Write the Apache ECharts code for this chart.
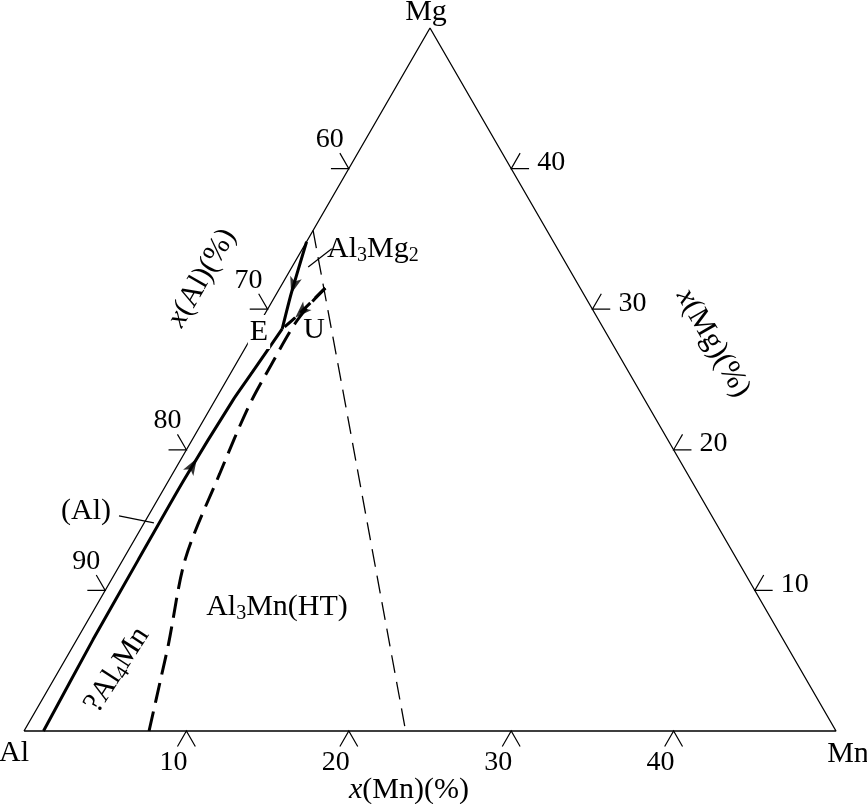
<!DOCTYPE html>
<html>
<head>
<meta charset="utf-8">
<title>Al-Mg-Mn</title>
<script src="https://cdn.jsdelivr.net/npm/echarts@6/dist/echarts.min.js"></script>
<style>
  html, body { margin: 0; padding: 0; background: #fff; }
  #main { width: 867px; height: 804px; }
</style>
</head>
<body>
<div id="main"></div>
<script>
// compositions in mole %, written as [x(Mn), x(Mg)], Al is the rest
const cornerNames = ['Al', 'Mn', 'Mg'];
const cornerComps = [[0, 0], [50, 0], [0, 50]];
const mnTicks = [10, 20, 30, 40];
const alTicks = [60, 70, 80, 90];
const mgTicks = [10, 20, 30, 40];

// (Al) / ?Al4Mn valley, from the Al-Mn side up to E
const alValley = [[1.2, 0], [1.0, 6.5], [0.95, 12.1], [0.92, 17.8], [1.1, 23.5], [1.3, 25.5], [1.6, 28.6]];
// (Al) / Al3Mg2 valley, from the Al-Mg side down to E
const mg2Valley = [[0, 34.8], [0.9, 31.1], [1.6, 28.6]];
// ?Al4Mn / Al3Mn(HT) boundary, from the Al-Mn side up to U
const al4mnEdge = [[7.7, 0], [6.6, 3.6], [5.8, 6.2], [3.8, 12.3], [2.9, 18.3], [2.3, 23.0], [2.2, 26.0], [2.2, 29.0], [2.5, 30.6], [2.8, 31.5]];
// U -> E
const uToE = [[2.8, 31.5], [2.0, 29.4], [1.6, 28.6]];
// edge of the Al3Mn(HT) field
const al3mnEdge = [[0, 35.6], [8.0, 23.5], [23.5, 0]];
// flow arrows: [from, at]
const flowArrows = [
  [[0.92, 17.8], [0.95, 19.4]],
  [[0, 34.8], [0.9, 31.1]],
  [[2.8, 31.5], [2.0, 29.4]]
];
// leader lines for labels
const alLeader = [[-1.8, 15.3], [0.6, 14.8]];
const mg2Leader = [[1.0, 33.0], [1.8, 34.3]];

const S3 = Math.sqrt(3) / 2;
const toXY = p => [p[0] + p[1] / 2, p[1] * S3];
const FONT = 'Liberation Serif';

// small tick marks along the three sides
const tickLen = 1.1;
const move = (p, dx, dy) => [p[0] + dx * tickLen, p[1] + dy * tickLen];
const tickPaths = [];
const tickLabels = [];
mnTicks.forEach(t => {
  const tip = toXY([t, 0]);
  tickPaths.push([move(tip, -0.5, -S3), tip, move(tip, 0.5, -S3)]);
  tickLabels.push({ name: String(t), value: tip, label: { offset: [-13, 32] } });
});
alTicks.forEach(t => {
  const tip = toXY([0, 100 - t]);
  tickPaths.push([move(tip, -1, 0), tip, move(tip, -0.5, S3)]);
  tickLabels.push({ name: String(t), value: tip, label: { offset: [-19, -29] } });
});
mgTicks.forEach(t => {
  const tip = toXY([50 - t, t]);
  tickPaths.push([move(tip, 1, 0), tip, move(tip, 0.5, S3)]);
  tickLabels.push({ name: String(t), value: tip, label: { offset: [40, -6] } });
});

const arrowData = flowArrows.map(([a, b]) => {
  const p = toXY(a), q = toXY(b);
  const ang = Math.atan2(q[1] - p[1], q[0] - p[0]) * 180 / Math.PI;
  return { value: q, symbolRotate: ang - 90 };
});

const rich = {
  a: { fontFamily: FONT, fontSize: 30, color: '#000' },
  i: { fontFamily: FONT, fontSize: 30, fontStyle: 'italic', color: '#000' },
  s: { fontFamily: FONT, fontSize: 20, color: '#000', padding: [13, 0, 0, 0] }
};

function label(x, y, text, rot) {
  return {
    type: 'text', x: x, y: y, z: 100, rotation: (rot || 0) * Math.PI / 180,
    style: { text: text, rich: rich, fontFamily: FONT, fontSize: 30, fill: '#000', align: 'center', verticalAlign: 'middle' }
  };
}

function curve(data, width, dash, smooth) {
  return {
    type: 'line', data: data.map(toXY), smooth: smooth || false, symbol: 'none', clip: false, silent: true,
    lineStyle: { color: '#000', width: width, type: dash || 'solid' }
  };
}

const texts = [
  label(426, 12, '{a|Mg}'),
  label(14, 753, '{a|Al}'),
  label(848, 754, '{a|Mn}'),
  label(409, 790, '{i|x}{a|(Mn)(%)}'),
  label(202, 278, '{i|x}{a|(Al)(%)}', 60),
  label(713, 343, '{i|x}{a|(Mg)(%)}', -60),
  label(327, 249, '{a|Al}{s|3}{a|Mg}{s|2}'),
  label(86, 511, '{a|(Al)}'),
  label(277, 607, '{a|Al}{s|3}{a|Mn(HT)}'),
  label(117, 670, '{a|?Al}{s|4}{a|Mn}', 57),
  label(259, 332, '{a|E}'),
  label(314, 330, '{a|U}')
];
texts[6].style.align = 'left';
texts[10].style.backgroundColor = '#fff';
texts[10].style.padding = [2, 2];

const chart = echarts.init(document.getElementById('main'));
chart.setOption({
  animation: false,
  backgroundColor: '#fff',
  grid: { left: 24, right: 31, top: 28, bottom: 73 },
  xAxis: { type: 'value', min: 0, max: 50, show: false },
  yAxis: { type: 'value', min: 0, max: 50 * S3, show: false },
  graphic: texts,
  series: [
    curve(cornerComps.concat([cornerComps[0]]), 1.3),
    {
      type: 'lines', coordinateSystem: 'cartesian2d', polyline: true, silent: true, clip: false,
      data: tickPaths.map(c => ({ coords: c })),
      lineStyle: { color: '#000', width: 1.2, opacity: 1 }
    },
    {
      type: 'lines', coordinateSystem: 'cartesian2d', polyline: true, silent: true, clip: false,
      data: [alLeader, mg2Leader].map(c => ({ coords: c.map(toXY) })),
      lineStyle: { color: '#000', width: 1.2, opacity: 1 }
    },
    curve(alValley, 3, 'solid', 0.2),
    curve(mg2Valley, 3, 'solid', 0.2),
    curve(al4mnEdge, 3, [20, 9], 0.3),
    curve(uToE, 3, [14, 7], 0.2),
    curve(al3mnEdge, 1.3, [18, 9]),
    {
      type: 'scatter', data: arrowData, symbol: 'arrow', symbolSize: [9, 17], silent: true, clip: false,
      itemStyle: { color: '#000' }
    },
    {
      type: 'scatter', data: tickLabels, symbolSize: 1, silent: true, clip: false,
      itemStyle: { color: 'rgba(0,0,0,0)' },
      label: {
        show: true, position: 'inside', formatter: '{b}', fontFamily: FONT, fontSize: 28,
        color: '#000', textBorderWidth: 0, opacity: 1
      }
    }
  ]
});
</script>
</body>
</html>
